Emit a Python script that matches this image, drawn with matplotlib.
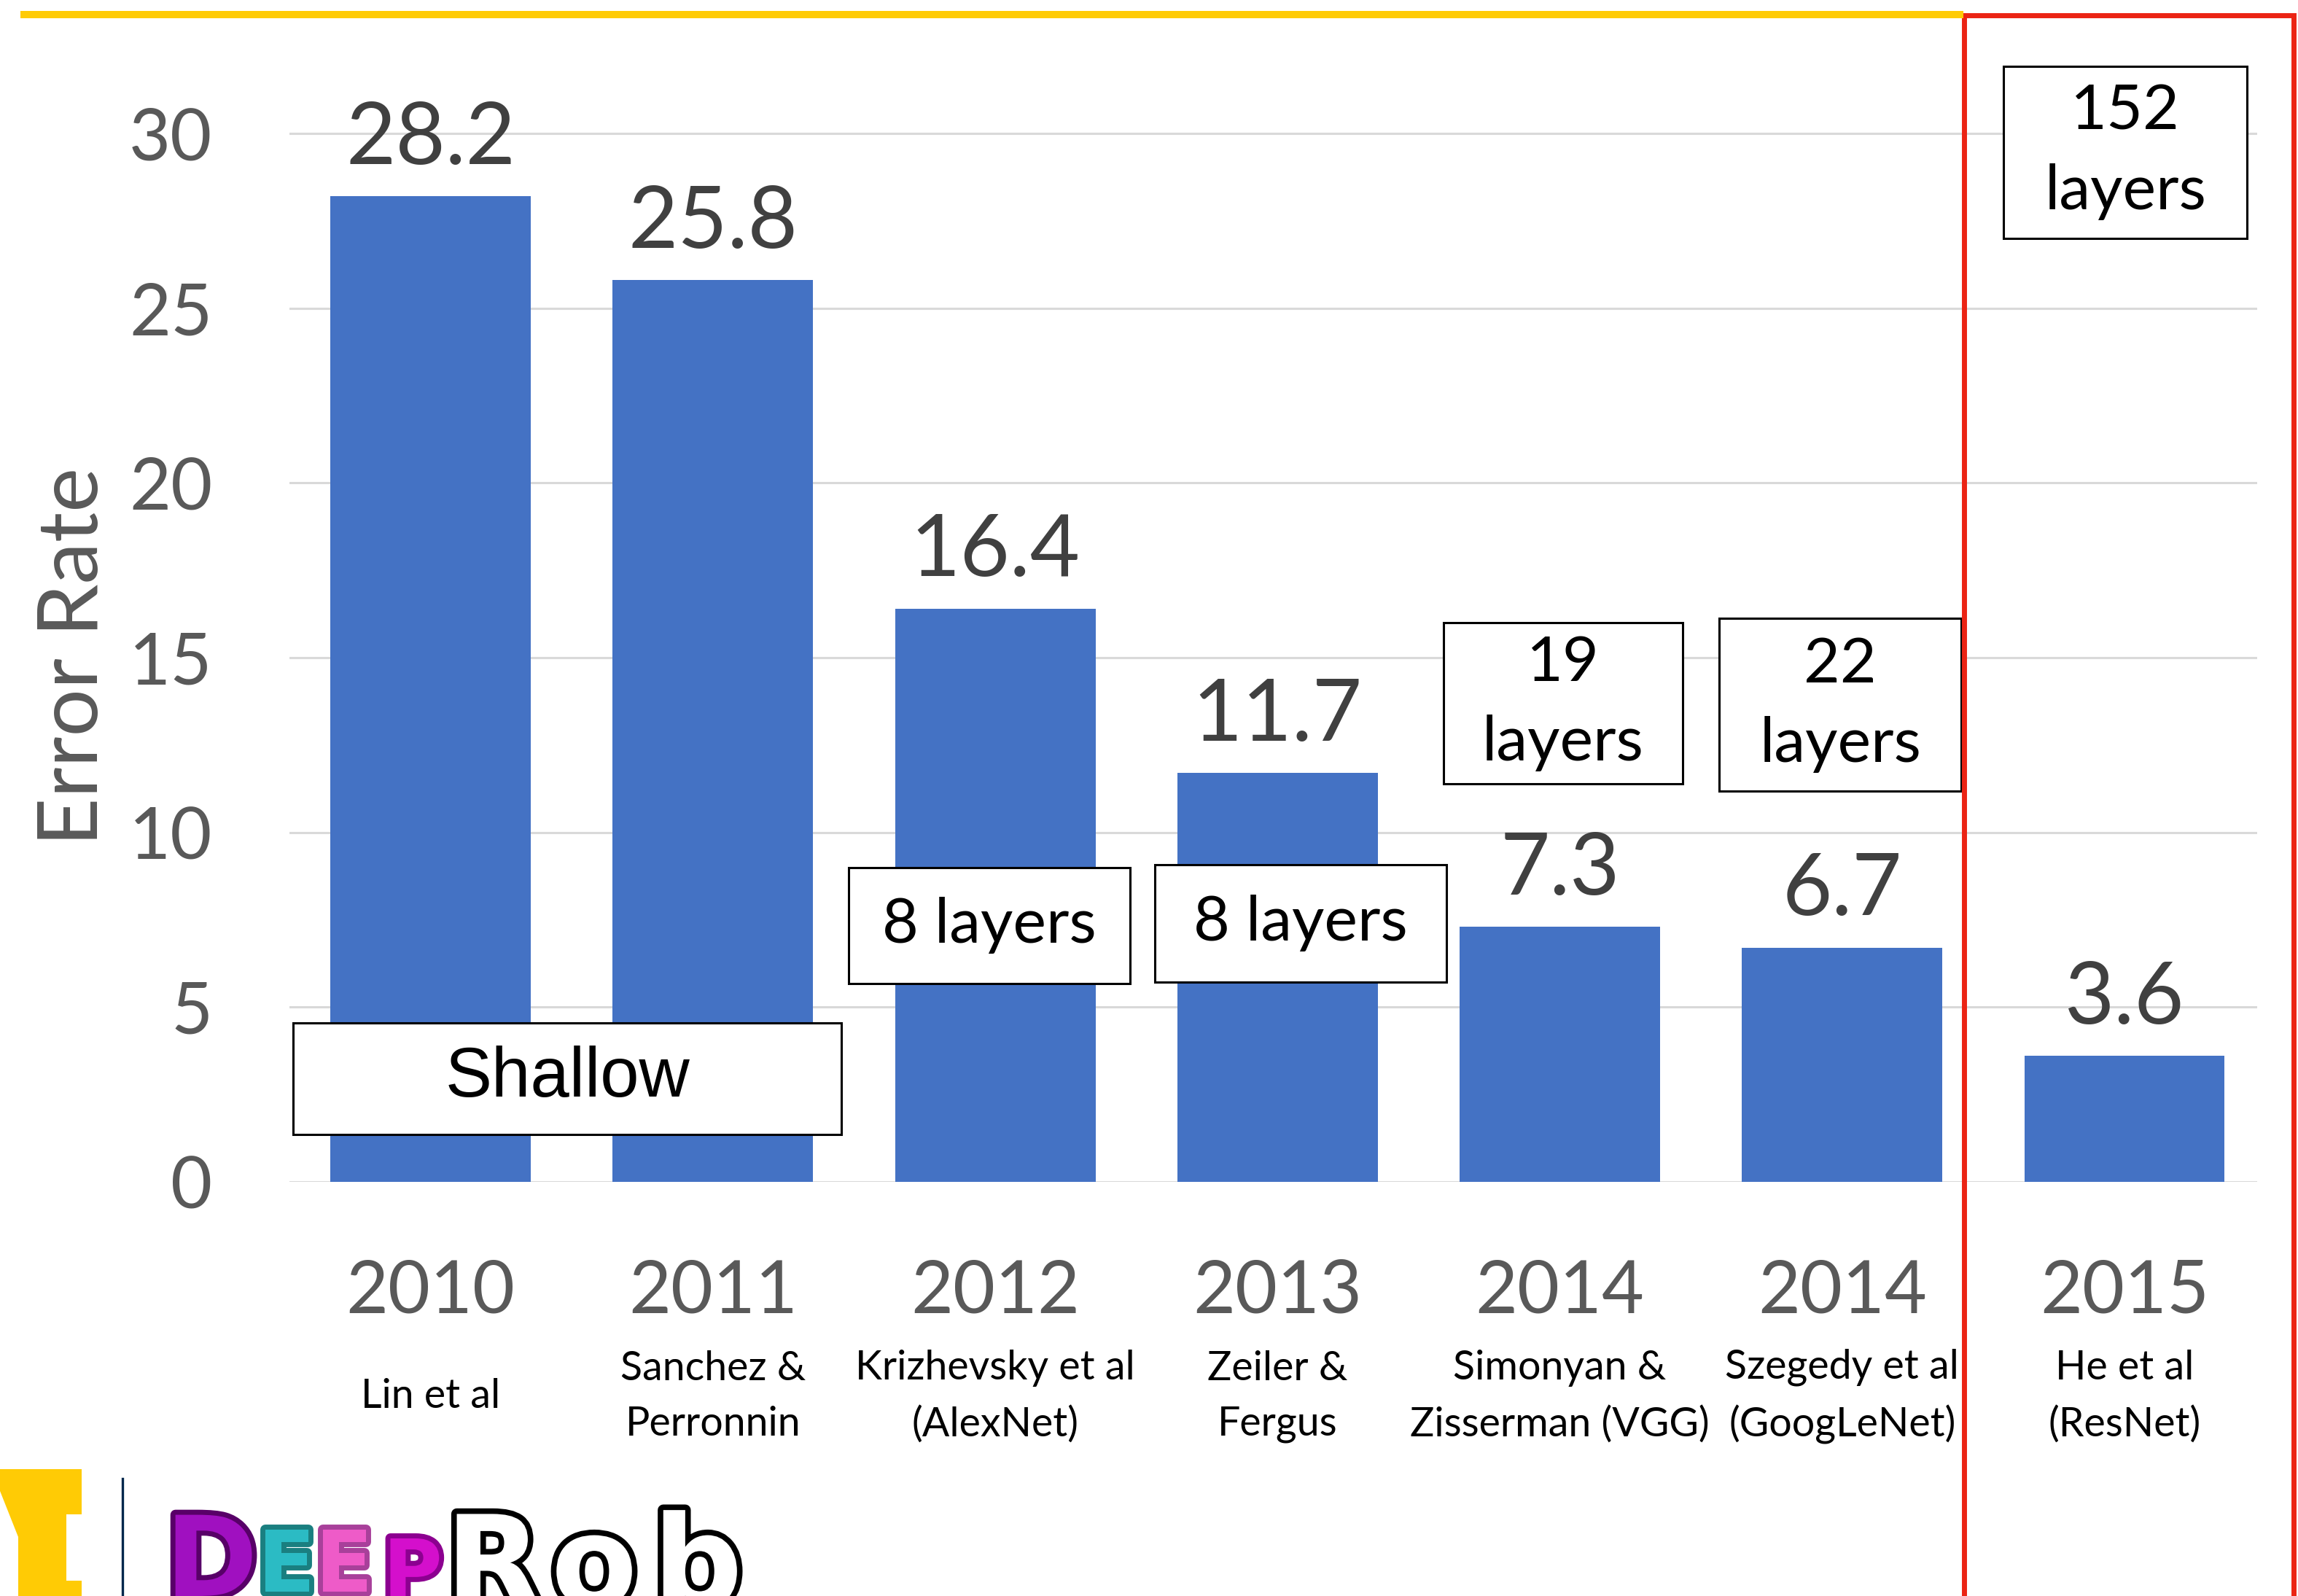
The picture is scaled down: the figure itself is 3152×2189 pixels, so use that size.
import matplotlib
matplotlib.use('Agg')
import matplotlib.pyplot as plt
import matplotlib.patheffects as pe
from matplotlib.patches import Rectangle, Polygon
from matplotlib.lines import Line2D

########################################################### DATA ###############################################################################

years = ['2010', '2011', '2012', '2013', '2014', '2014', '2015']
authors = ['Lin et al', 'Sanchez &\nPerronnin', 'Krizhevsky et al\n(AlexNet)', 'Zeiler &\nFergus',
           'Simonyan &\nZisserman (VGG)', 'Szegedy et al\n(GoogLeNet)', 'He et al\n(ResNet)']
error_rate = [28.2, 25.8, 16.4, 11.7, 7.3, 6.7, 3.6]
yticks = [0, 5, 10, 15, 20, 25, 30]

depth_notes = ['Shallow', '8 layers', '8 layers', '19\nlayers', '22\nlayers', '152\nlayers']

########################################################### LAYOUT ###############################################################################

W, H, DPI = 3152, 2189, 200

# note boxes in data units (x0, x1, y0, y1)
note_boxes = [(-0.487, 1.455, 1.36, 4.55),
              (1.481, 2.478, 5.68, 8.99),
              (2.566, 3.599, 5.72, 9.08),
              (3.588, 4.435, 11.39, 16.0),
              (4.565, 5.422, 11.18, 16.13),
              (5.572, 6.434, 27.0, 31.92)]

BLUE = '#4472C4'
GRID = '#D9D9D9'
GREY = '#595959'
DARK = '#404040'


def px(x, y):
    # pixel position from the top-left corner -> figure fraction
    return x / W, 1 - y / H


fig = plt.figure(figsize=(W / DPI, H / DPI), dpi=DPI)
fig.set_facecolor('white')

ax = fig.add_axes([397 / W, 1 - 1621 / H, (3096 - 397) / W, (1621 - 39) / H])
x = list(range(len(error_rate)))
ax.bar(x, error_rate, width=0.71, color=BLUE, zorder=2)
ax.set_xlim(-0.5, 6.47)
ax.set_ylim(0, 33)
ax.set_yticks(yticks)
ax.set_xticks([])
ax.yaxis.grid(True, color=GRID, linewidth=1.1)
ax.set_axisbelow(True)
for s in ax.spines.values():
    s.set_visible(False)
ax.tick_params(axis='y', length=0, pad=38, labelsize=35.5, labelcolor=GREY)
for lab in ax.get_yticklabels():
    lab.set_fontfamily('Lato')

# value labels
for i, v in enumerate(error_rate):
    ax.annotate('{}'.format(v), xy=(i, v), xytext=(0, 16), textcoords='offset points',
                ha='center', va='baseline', fontsize=42.5, color=DARK, family='Lato')

# year and author labels under the bars
for i in x:
    ax.annotate(years[i], xy=(i, 0), xycoords=('data', 'axes fraction'), xytext=(0, -64.5),
                textcoords='offset points', ha='center', va='baseline', fontsize=36,
                color=GREY, family='Lato', annotation_clip=False)
    ax.annotate(authors[i], xy=(i, 0), xycoords=('data', 'axes fraction'), xytext=(0, -106),
                textcoords='offset points', ha='center', va='center', fontsize=20,
                color='black', family='Lato', linespacing=1.6, annotation_clip=False)

fig.text(*px(102, 900), 'Error Rate', rotation=90, ha='center', va='center',
         fontsize=41.5, color=GREY, family='Lato')

# depth notes
for note, (x0, x1, y0, y1) in zip(depth_notes, note_boxes):
    ax.add_patch(Rectangle((x0, y0), x1 - x0, y1 - y0, facecolor='white', edgecolor='black',
                           linewidth=1.1, zorder=4, clip_on=False))
    fam = 'Liberation Sans' if note == 'Shallow' else 'Lato'
    size = 34.5 if note == 'Shallow' else 31
    ax.text((x0 + x1) / 2, (y0 + y1) / 2, note, ha='center', va='center', fontsize=size,
            family=fam, color='black', linespacing=1.5, zorder=5, clip_on=False)

# maize rule along the top and the red frame around 2015
x0f, yf = px(28, 20)
x1f, _ = px(2693, 20)
fig.add_artist(Line2D([x0f, x1f], [yf, yf], color='#FFCB05', linewidth=3.6, solid_capstyle='butt'))
rx, ry = px(2693.5, 21)
rx2, _ = px(3146, 21)
fig.add_artist(Rectangle((rx, -0.05), rx2 - rx, ry + 0.05, facecolor='none',
                         edgecolor='#EB2414', linewidth=2.5))

# logo in the bottom-left corner: right half of the block M, a rule, then the wordmark
m_outline = [(0, 2015), (112, 2015), (112, 2077), (91, 2077), (91, 2168), (112, 2168),
             (112, 2189), (25, 2189), (25, 2108), (0, 2045)]
fig.add_artist(Polygon([px(a, b) for a, b in m_outline], closed=True, facecolor='#FFCB05',
                       edgecolor='none'))
fig.add_artist(Line2D([168 / W, 168 / W], [0, 1 - 2028 / H], color='#00274C', linewidth=1.2))

deep = [('D', 290, 2072, 55, '#A010C0', '#580068'),
        ('E', 393, 2093, 42, '#2BBBC4', '#1A7F80'),
        ('E', 472, 2093, 42, '#EE5BC8', '#A8409A'),
        ('P', 566, 2107, 40, '#D40FCC', '#8C0090')]
for ch, cx, top, size, fc, ec in deep:
    t = fig.text(*px(cx, top), ch, ha='center', va='top', fontsize=size, family='DejaVu Sans',
                 weight='bold', color=fc)
    t.set_path_effects([pe.withStroke(linewidth=5, foreground=ec)])

for ch, cx in [('R', 677), ('o', 815), ('b', 957)]:
    t = fig.text(*px(cx, 2072), ch, ha='center', va='top', fontsize=62, family='DejaVu Sans',
                 weight='heavy', color='white')
    t.set_path_effects([pe.withStroke(linewidth=5.5, foreground='black')])

fig.savefig('out.png', dpi=DPI, facecolor=fig.get_facecolor())
